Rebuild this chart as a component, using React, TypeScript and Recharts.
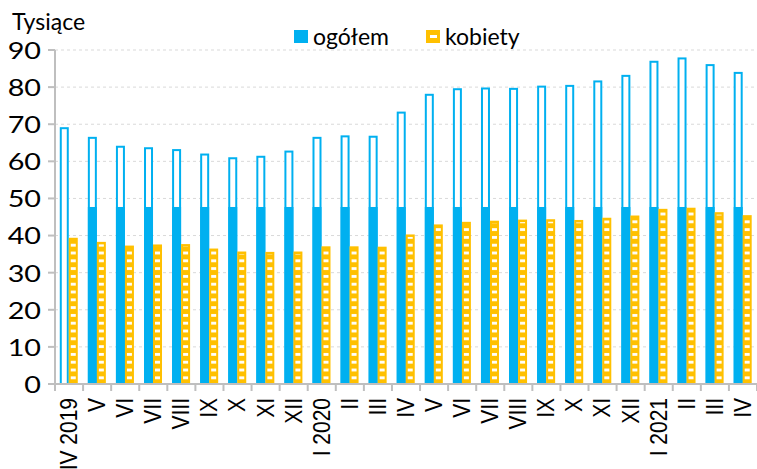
import { Bar, BarChart, CartesianGrid, Legend, XAxis, YAxis } from 'recharts';

const months = [
  'IV 2019', 'V', 'VI', 'VII', 'VIII', 'IX', 'X', 'XI', 'XII',
  'I 2020', 'II', 'III', 'IV', 'V', 'VI', 'VII', 'VIII', 'IX', 'X', 'XI', 'XII',
  'I 2021', 'II', 'III', 'IV',
];
const ogolem = [
  69.2, 66.6, 64.2, 63.8, 63.3, 62.1, 61.1, 61.5, 62.9,
  66.6, 67.0, 66.9, 73.4, 78.2, 79.7, 79.9, 79.8, 80.4, 80.6, 81.8, 83.3,
  87.1, 88.0, 86.2, 84.1,
];
const kobiety = [
  39.4, 38.3, 37.3, 37.6, 37.7, 36.5, 35.7, 35.6, 35.7,
  37.1, 37.1, 37.0, 40.3, 43.0, 43.7, 44.0, 44.3, 44.4, 44.2, 44.8, 45.4,
  47.2, 47.5, 46.3, 45.5,
];
// level up to which the "ogółem" bar is drawn solid (first bar is hollow in the original)
const ogolemSolid = [
  0, 47.7, 47.7, 47.7, 47.7, 47.7, 47.7, 47.7, 47.7,
  47.7, 47.7, 47.7, 47.7, 47.7, 47.7, 47.7, 47.7, 47.7, 47.7, 47.7, 47.7,
  47.7, 47.7, 47.7, 47.7,
];
const yTicks = [0, 10, 20, 30, 40, 50, 60, 70, 80, 90];
const seriesOrder = ['ogolem', 'kobiety'];

const data = months.map((m, i) => ({
  month: m,
  ogolem: ogolem[i],
  kobiety: kobiety[i],
  solid: ogolemSolid[i],
}));

const BLUE = '#00B0F0';
const YELLOW = '#FFC000';
const AXIS = '#BFBFBF';
const FONT = 'Lato, sans-serif';

const OgolemShape = (props: any) => {
  const { x, y, width, height, payload } = props;
  const solidH = payload.ogolem ? (height * payload.solid) / payload.ogolem : 0;
  return (
    <g>
      <rect x={x} y={y} width={width} height={height} fill="#fff" />
      {solidH > 0 && (
        <rect x={x} y={y + height - solidH} width={width} height={solidH} fill={BLUE} />
      )}
      <rect x={x + 1} y={y + 1} width={width - 2} height={height - 1} fill="none" stroke={BLUE} strokeWidth={2} />
    </g>
  );
};

const KobietyShape = (props: any) => {
  const { x, y, width, height } = props;
  return (
    <g>
      <rect x={x} y={y} width={width} height={height} fill={YELLOW} />
      <rect x={x + 2} y={y + 2.5} width={width - 4} height={height - 2.5} fill="url(#kobStripes)" />
    </g>
  );
};

const MonthTick = (props: any) => {
  const { x, y, payload, index } = props;
  const half = payload.offset || 0;
  return (
    <g>
      <line x1={x - half} y1={y} x2={x - half} y2={y + 7} stroke={AXIS} strokeWidth={2} />
      {index === months.length - 1 && (
        <line x1={x + half} y1={y} x2={x + half} y2={y + 7} stroke={AXIS} strokeWidth={2} />
      )}
      <text
        transform={`translate(${x},${y + 14}) rotate(-90) scale(1,1.12)`}
        textAnchor="end"
        dominantBaseline="central"
        fontFamily="'Liberation Sans', Arial, sans-serif"
        fontSize={21}
        fill="#000"
      >
        {payload.value}
      </text>
    </g>
  );
};

const ValueTick = (props: any) => {
  const { x, y, payload } = props;
  return (
    <text
      transform={`translate(${x},${y}) scale(1.25,1)`}
      textAnchor="end"
      dominantBaseline="central"
      fontFamily={FONT}
      fontSize={23}
      fill="#000"
    >
      {payload.value}
    </text>
  );
};

const LegendContent = (props: any) => {
  const payload = [...(props.payload || [])].sort(
    (a: any, b: any) => seriesOrder.indexOf(a.dataKey) - seriesOrder.indexOf(b.dataKey),
  );
  return (
    <div style={{ display: 'flex', alignItems: 'center', fontFamily: FONT, fontSize: 23, color: '#000' }}>
      {payload.map((item: any) => (
        <div key={item.value} style={{ display: 'flex', alignItems: 'center', marginRight: 37 }}>
          <div
            style={{
              width: 14,
              height: 13,
              marginRight: 5,
              background: item.dataKey === 'kobiety' ? YELLOW : BLUE,
              position: 'relative',
            }}
          >
            {item.dataKey === 'kobiety' && (
              <div style={{ position: 'absolute', left: 4, top: 5, width: 7, height: 3, background: '#fff' }} />
            )}
          </div>
          <span>{item.value}</span>
        </div>
      ))}
    </div>
  );
};

export default function App() {
  return (
    <div style={{ position: 'absolute', left: 0, top: 0, width: 757, height: 469, background: '#fff' }}>
      <div
        style={{
          position: 'absolute',
          left: 12,
          top: 7,
          fontFamily: FONT,
          fontSize: 23,
          color: '#000',
          lineHeight: '28px',
          zIndex: 2,
        }}
      >
        Tysiące
      </div>
      <BarChart
        width={757}
        height={469}
        data={data}
        margin={{ top: 50, right: 0, left: 0, bottom: 0 }}
        barCategoryGap="17%"
        barGap={0}
      >
        <defs>
          <pattern id="kobStripes" patternUnits="userSpaceOnUse" x={0} y={0} width={10} height={7.8}>
            <rect x={0} y={2} width={10} height={2.8} fill="#fff" />
          </pattern>
        </defs>
        <CartesianGrid vertical={false} stroke="#D9D9D9" strokeDasharray="3 3" />
        <XAxis
          dataKey="month"
          interval={0}
          tickLine={false}
          tickSize={0}
          tickMargin={0}
          axisLine={{ stroke: AXIS, strokeWidth: 2 }}
          tick={<MonthTick />}
          height={85}
        />
        <YAxis
          domain={[0, 90]}
          ticks={yTicks}
          interval={0}
          width={55}
          tickSize={7}
          tickMargin={7}
          tickLine={{ stroke: AXIS, strokeWidth: 2 }}
          axisLine={{ stroke: AXIS, strokeWidth: 2 }}
          tick={<ValueTick />}
        />
        <Legend
          verticalAlign="middle"
          layout="horizontal"
          content={<LegendContent />}
          wrapperStyle={{ top: 22, left: 294, width: 'auto', height: 'auto' }}
        />
        <Bar dataKey="ogolem" name="ogółem" fill={BLUE} shape={<OgolemShape />} isAnimationActive={false} />
        <Bar dataKey="kobiety" name="kobiety" fill={YELLOW} shape={<KobietyShape />} isAnimationActive={false} />
      </BarChart>
    </div>
  );
}
